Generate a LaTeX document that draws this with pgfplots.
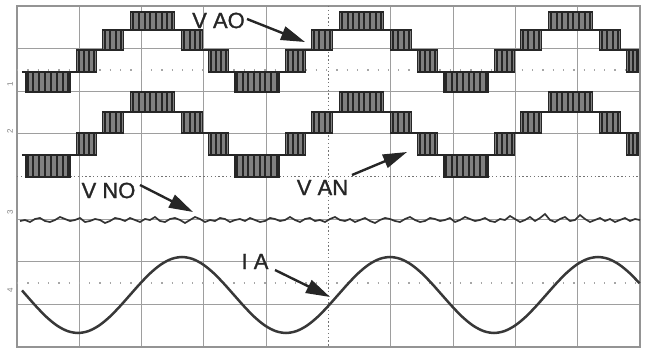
\documentclass[border=0pt]{standalone}
\usepackage{fontspec}
\setmainfont{Liberation Sans}
\newfontfamily\labfont{Liberation Sans}[BoldFont={Liberation Sans}, BoldFeatures={FakeBold=1.2}]
\usepackage{pgfplots}
\usepackage{pgfplotstable}
\pgfplotsset{compat=1.18}
\usetikzlibrary{arrows.meta}

\pgfplotstableread{
x c1 h1 c2 h2
28 82 10 166 11
33 82 10 166 11
39 82 10 166 11
45 82 10 166 11
51 82 10 166 11
57 82 10 166 11
63 82 10 166 11
68 82 10 166 11
79 61 11 144 11
84 61 11 144 11
89 61 11 144 11
94 61 11 144 11
105 40 10 122.5 10.5
110 40 10 122.5 10.5
116 40 10 122.5 10.5
121 40 10 122.5 10.5
133 21 9 102 10
139 21 9 102 10
145 21 9 102 10
150 21 9 102 10
156 21 9 102 10
162 21 9 102 10
167 21 9 102 10
172 21 9 102 10
184 40 10 122.5 10.5
190 40 10 122.5 10.5
195 40 10 122.5 10.5
200 40 10 122.5 10.5
211 61 11 144 11
216 61 11 144 11
221 61 11 144 11
226 61 11 144 11
237 82 10 166 11
243 82 10 166 11
248 82 10 166 11
254 82 10 166 11
260 82 10 166 11
265 82 10 166 11
271 82 10 166 11
277 82 10 166 11
288 61 11 144 11
293 61 11 144 11
298 61 11 144 11
303 61 11 144 11
314 40 10 122.5 10.5
319 40 10 122.5 10.5
325 40 10 122.5 10.5
330 40 10 122.5 10.5
342 21 9 102 10
348 21 9 102 10
353 21 9 102 10
359 21 9 102 10
364 21 9 102 10
370 21 9 102 10
376 21 9 102 10
381 21 9 102 10
393 40 10 122.5 10.5
398 40 10 122.5 10.5
404 40 10 122.5 10.5
409 40 10 122.5 10.5
420 61 11 144 11
425 61 11 144 11
430 61 11 144 11
435 61 11 144 11
446 82 10 166 11
452 82 10 166 11
457 82 10 166 11
463 82 10 166 11
469 82 10 166 11
474 82 10 166 11
480 82 10 166 11
486 82 10 166 11
497 61 11 144 11
502 61 11 144 11
507 61 11 144 11
512 61 11 144 11
523 40 10 122.5 10.5
528 40 10 122.5 10.5
534 40 10 122.5 10.5
539 40 10 122.5 10.5
551 21 9 102 10
557 21 9 102 10
562 21 9 102 10
568 21 9 102 10
573 21 9 102 10
579 21 9 102 10
585 21 9 102 10
590 21 9 102 10
602 40 10 122.5 10.5
607 40 10 122.5 10.5
613 40 10 122.5 10.5
618 40 10 122.5 10.5
629 61 11 144 11
633 61 11 144 11
637 61 11 144 11
}\pulses

\pgfplotstableread{
x y
22 290.4
26 295
36.4 306.7
46.8 317.3
57.2 325.7
67.6 331.1
78 333
88.4 331.1
98.8 325.7
109.2 317.3
119.6 306.7
130 295
140.4 283.3
150.8 272.7
161.2 264.3
171.6 258.9
182 257
192.4 258.9
202.8 264.3
213.2 272.7
223.6 283.3
234 295
244.4 306.7
254.8 317.3
265.2 325.7
275.6 331.1
286 333
296.4 331.1
306.8 325.7
317.2 317.3
327.6 306.7
338 295
348.4 283.3
358.8 272.7
369.2 264.3
379.6 258.9
390 257
400.4 258.9
410.8 264.3
421.2 272.7
431.6 283.3
442 295
452.4 306.7
462.8 317.3
473.2 325.7
483.6 331.1
494 333
504.4 331.1
514.8 325.7
525.2 317.3
535.6 306.7
546 295
556.4 283.3
566.8 272.7
577.2 264.3
587.6 258.9
598 257
608.4 258.9
618.8 264.3
629.2 272.7
639.6 283.3
}\ia

\pgfplotstableread{
x y
20 221
25 220
30 222
35 219
40 218
45 221
50 222
55 220
60 217
65 219
70 221
75 220
80 218
85 222
90 221
95 219
100 220
105 223
110 221
115 218
120 219
125 221
130 218
135 220
140 222
145 219
150 220
155 217
160 221
165 222
170 219
175 218
180 220
185 223
190 220
195 217
200 219
205 222
210 220
215 221
220 218
225 219
230 222
235 220
240 219
245 221
250 218
255 220
260 222
265 221
270 218
275 219
280 221
285 220
290 217
295 220
300 222
305 219
310 218
315 221
320 220
325 222
330 219
335 217
340 220
345 221
350 219
355 222
360 220
365 218
370 221
375 223
380 220
385 218
390 219
395 221
400 222
405 219
410 217
415 220
420 222
425 221
430 218
435 219
440 221
445 220
450 218
455 222
460 220
465 217
470 219
475 221
480 220
485 218
490 221
495 222
500 219
505 220
510 216
515 219
520 222
525 220
530 217
535 221
540 218
545 214
550 220
555 222
560 219
565 217
570 221
575 220
580 215
585 219
590 222
595 220
600 218
605 221
610 219
615 222
620 220
625 218
630 221
635 219
640 220
}\vno

\begin{document}
\begin{tikzpicture}
\begin{axis}[
  width=623pt, height=341pt, scale only axis,
  xmin=17, xmax=640, ymin=6, ymax=347, y dir=reverse,
  clip=false,
  xtick={79.3,141.6,203.9,266.2,390.8,453.1,515.4,577.7},
  ytick={48.6,91.25,133.9,219.1,261.75,304.4},
  xticklabels={}, yticklabels={},
  major tick length=0pt,
  grid=major,
  major grid style={black!38, line width=1.1pt},
  axis line style={black!42, line width=1.2pt},
]
% centre graticule lines
\addplot[black!55, line width=1.4pt, dash pattern=on 1.4pt off 2.4pt] coordinates {(328.5,6) (328.5,347)};
\addplot[black!55, line width=1.4pt, dash pattern=on 1.4pt off 2.4pt] coordinates {(17,176.5) (640,176.5)};
\addplot[black!35, line width=1.3pt, dash pattern=on 1.3pt off 9pt] coordinates {(17,70) (640,70)};
\addplot[black!35, line width=1.3pt, dash pattern=on 1.3pt off 9pt] coordinates {(17,283) (640,283)};

% Channel 1: V AO
\addplot[fill=black!50, draw=black!85, line width=1.2pt] coordinates {
(22,72) (76.5,72) (76.5,50) (102.5,50) (102.5,30) (130.5,30) (130.5,12) (174.5,12) (174.5,30) (202.5,30) (202.5,50) (228.5,50) (228.5,72) (285.5,72) (285.5,50) (311.5,50) (311.5,30) (339.5,30) (339.5,12) (383.5,12) (383.5,30) (411.5,30) (411.5,50) (437.5,50) (437.5,72) (494.5,72) (494.5,50) (520.5,50) (520.5,30) (548.5,30) (548.5,12) (592.5,12) (592.5,30) (620.5,30) (620.5,50) (638,50) (638,72)
(626.5,72) (626.5,50) (599.5,50) (599.5,30) (541.5,30) (541.5,50) (514.5,50) (514.5,72) (488,72) (488,92) (444,92) (444,72) (417.5,72) (417.5,50) (390.5,50) (390.5,30) (332.5,30) (332.5,50) (305.5,50) (305.5,72) (279,72) (279,92) (235,92) (235,72) (208.5,72) (208.5,50) (181.5,50) (181.5,30) (123.5,30) (123.5,50) (96.5,50) (96.5,72) (70,72) (70,92) (26,92) (26,72) (22,72)};
\addplot[draw=none, error bars/.cd, y dir=both, y explicit, error mark=none,
  error bar style={draw=black!85, line width=1.1pt}]
  table[x=x, y=c1, y error=h1] {\pulses};

% Channel 2: V AN
\addplot[fill=black!50, draw=black!85, line width=1.2pt] coordinates {
(22,155) (76.5,155) (76.5,133) (102.5,133) (102.5,112) (130.5,112) (130.5,92) (174.5,92) (174.5,112) (202.5,112) (202.5,133) (228.5,133) (228.5,155) (285.5,155) (285.5,133) (311.5,133) (311.5,112) (339.5,112) (339.5,92) (383.5,92) (383.5,112) (411.5,112) (411.5,133) (437.5,133) (437.5,155) (494.5,155) (494.5,133) (520.5,133) (520.5,112) (548.5,112) (548.5,92) (592.5,92) (592.5,112) (620.5,112) (620.5,133) (638,133) (638,155)
(626.5,155) (626.5,133) (599.5,133) (599.5,112) (541.5,112) (541.5,133) (514.5,133) (514.5,155) (488,155) (488,177) (444,177) (444,155) (417.5,155) (417.5,133) (390.5,133) (390.5,112) (332.5,112) (332.5,133) (305.5,133) (305.5,155) (279,155) (279,177) (235,177) (235,155) (208.5,155) (208.5,133) (181.5,133) (181.5,112) (123.5,112) (123.5,133) (96.5,133) (96.5,155) (70,155) (70,177) (26,177) (26,155) (22,155)};
\addplot[draw=none, error bars/.cd, y dir=both, y explicit, error mark=none,
  error bar style={draw=black!85, line width=1.1pt}]
  table[x=x, y=c2, y error=h2] {\pulses};

% Channel 3: V NO
\addplot[black!80, line width=1.7pt] table[x=x, y=y] {\vno};

% Channel 4: I A
\addplot[black!78, line width=2.5pt, smooth] table[x=x, y=y] {\ia};

% channel markers
\node[rotate=90, font=\fontsize{8}{8}\selectfont, black!50] at (axis cs:10,84) {1};
\node[rotate=90, font=\fontsize{8}{8}\selectfont, black!50] at (axis cs:10,131) {2};
\node[rotate=90, font=\fontsize{8}{8}\selectfont, black!50] at (axis cs:10,212) {3};
\node[rotate=90, font=\fontsize{8}{8}\selectfont, black!50] at (axis cs:10,290) {4};

% labels and arrows
\node[font=\labfont\bfseries\fontsize{22}{22}\selectfont, text=black!85, inner sep=0pt] at (axis cs:218.5,20.5) {V AO};
\draw[black!85, line width=2.4pt, -{Triangle[length=24pt,width=14pt]}] (axis cs:247,19) -- (axis cs:305,42);
\node[font=\labfont\bfseries\fontsize{22}{22}\selectfont, text=black!85, inner sep=0pt] at (axis cs:322.5,187.5) {V AN};
\draw[black!85, line width=2.4pt, -{Triangle[length=24pt,width=14pt]}] (axis cs:352,175) -- (axis cs:407,152);
\node[font=\labfont\bfseries\fontsize{22}{22}\selectfont, text=black!85, inner sep=0pt] at (axis cs:108.5,190.5) {V NO};
\draw[black!85, line width=2.4pt, -{Triangle[length=24pt,width=14pt]}] (axis cs:140,185) -- (axis cs:193,212);
\node[font=\labfont\bfseries\fontsize{22}{22}\selectfont, text=black!85, inner sep=0pt] at (axis cs:255,261.5) {I A};
\draw[black!85, line width=2.4pt, -{Triangle[length=24pt,width=14pt]}] (axis cs:275,270) -- (axis cs:330,297);
\end{axis}
\pgfresetboundingbox
\path (-17pt,-5pt) rectangle (638pt,347pt);
\end{tikzpicture}
\end{document}
